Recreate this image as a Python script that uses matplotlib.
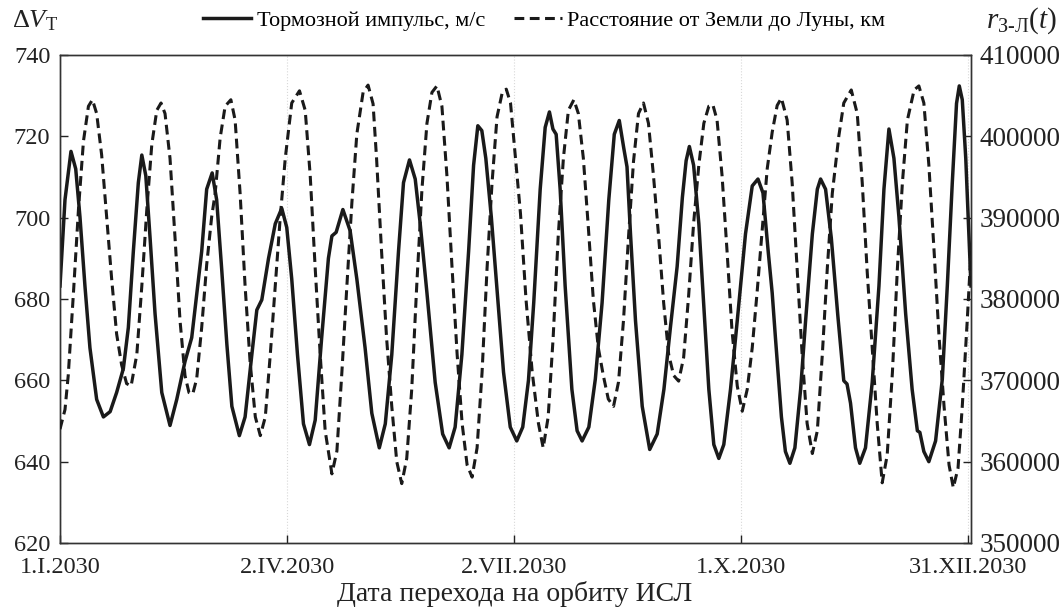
import matplotlib
matplotlib.use('Agg')
import matplotlib.pyplot as plt

plt.rcParams['font.family'] = ['Liberation Serif', 'DejaVu Serif']
plt.rcParams['mathtext.fontset'] = 'custom'
plt.rcParams['mathtext.rm'] = 'Liberation Serif'
plt.rcParams['mathtext.it'] = 'Liberation Serif:italic'

# Days counted from 1.I.2030
tick_days = [0, 91, 182, 273, 364]
tick_labels = ['1.I.2030', '2.IV.2030', '2.VII.2030', '1.X.2030', '31.XII.2030']

# Braking impulse, m/s
dv_days = [0.0, 2.0, 4.4, 6.3, 8.0, 10.0, 12.0, 14.7, 17.4, 20.1,
           22.7, 25.4, 27.4, 29.4, 31.4, 32.8, 34.4, 36.1, 38.1, 40.8,
           44.1, 46.8, 50.1, 52.8, 56.8, 58.8, 61.0, 62.8, 64.8, 66.9,
           68.9, 71.9, 74.2, 76.9, 78.9, 80.9, 83.6, 86.3, 88.9, 90.9,
           92.9, 95.2, 97.6, 100.0, 102.3, 104.9, 107.6, 109.0, 110.7, 113.4,
           116.3, 119.0, 122.3, 125.0, 128.0, 130.4, 133.0, 135.7, 137.7, 140.1,
           142.4, 144.4, 147.1, 150.4, 153.4, 156.0, 158.4, 161.1, 163.8, 165.8,
           167.5, 169.1, 170.7, 172.9, 175.1, 177.8, 180.5, 183.1, 185.5, 187.8,
           189.9, 192.5, 194.5, 196.2, 197.6, 198.9, 200.5, 202.5, 205.2, 207.3,
           209.3, 212.0, 214.6, 217.3, 220.0, 222.2, 224.2, 226.0, 227.3, 228.7,
           230.7, 233.4, 236.4, 239.4, 242.1, 244.7, 247.4, 249.5, 251.0, 252.3,
           254.0, 256.1, 258.1, 260.1, 262.1, 264.1, 266.1, 268.8, 271.5, 274.8,
           277.5, 279.8, 281.8, 283.9, 285.5, 286.8, 289.2, 290.8, 292.6, 294.6,
           296.9, 298.9, 301.6, 303.6, 304.9, 306.9, 309.2, 311.8, 314.2, 315.5,
           316.9, 318.9, 320.6, 322.9, 325.6, 328.3, 330.3, 332.3, 334.3, 336.3,
           339.0, 341.6, 343.7, 344.7, 346.3, 348.3, 351.0, 353.7, 355.7, 357.7,
           359.4, 360.5, 361.7, 363.1, 364.4, 365.2]
dv = [683.2, 704.4, 716.3, 712.0, 700.2, 683.2, 668.0, 655.3, 651.0, 652.3,
      657.0, 662.9, 673.0, 691.7, 708.6, 715.4, 710.3, 695.1, 676.4, 657.0,
      648.9, 655.3, 664.6, 670.5, 691.7, 707.0, 711.0, 704.4, 687.5, 668.8,
      653.6, 646.4, 651.0, 666.3, 677.3, 679.8, 690.0, 698.5, 702.3, 697.6,
      684.9, 666.3, 649.3, 644.2, 650.2, 670.5, 690.0, 695.5, 696.4, 702.0,
      696.8, 684.9, 668.0, 651.9, 643.4, 649.3, 666.3, 691.7, 708.6, 714.2,
      709.5, 698.5, 681.5, 659.5, 646.8, 643.4, 648.5, 666.3, 691.7, 712.9,
      722.6, 721.4, 714.6, 700.2, 683.2, 662.0, 648.5, 645.1, 648.5, 660.0,
      679.0, 707.0, 722.2, 726.0, 721.8, 720.5, 707.0, 683.2, 657.8, 647.6,
      645.1, 648.5, 660.3, 679.0, 704.4, 720.5, 723.9, 717.1, 712.5, 696.0,
      674.7, 653.6, 643.0, 646.8, 657.8, 673.0, 688.0, 705.0, 714.0, 717.5,
      712.9, 698.5, 678.1, 657.8, 644.2, 640.8, 644.2, 657.8, 674.7, 696.0,
      707.8, 709.5, 706.1, 691.7, 681.5, 670.5, 651.0, 642.5, 639.6, 643.4,
      657.8, 674.7, 696.0, 707.0, 709.5, 707.0, 695.0, 676.0, 659.9, 659.1,
      654.4, 643.4, 639.6, 643.4, 659.5, 683.2, 707.0, 721.8, 714.6, 700.2,
      676.4, 657.8, 647.6, 647.2, 642.5, 640.0, 645.1, 660.3, 683.2, 708.6,
      728.1, 732.4, 729.0, 714.6, 695.1, 683.2]

# Earth-Moon distance, km
dist_days = [0.0, 2.0, 3.3, 5.4, 7.4, 9.4, 11.4, 13.0, 14.7, 16.7,
             18.7, 20.7, 22.7, 24.7, 26.7, 28.5, 30.8, 32.8, 34.8, 36.8,
             38.8, 40.5, 42.1, 44.1, 46.1, 48.1, 50.1, 51.7, 53.2, 54.8,
             56.8, 58.8, 60.8, 62.2, 64.2, 66.2, 68.5, 70.2, 72.2, 74.2,
             76.2, 78.3, 80.3, 82.3, 84.3, 86.3, 88.3, 90.3, 92.9, 96.0,
             98.3, 100.3, 102.3, 104.3, 106.3, 109.0, 111.0, 113.0, 115.0, 117.0,
             119.0, 121.5, 123.5, 125.5, 126.9, 128.9, 130.9, 133.0, 135.0, 137.0,
             139.0, 141.0, 143.0, 145.1, 147.1, 149.1, 151.1, 153.1, 155.1, 157.1,
             159.2, 161.2, 163.2, 165.2, 167.2, 169.2, 171.2, 173.2, 175.2, 177.3,
             178.9, 180.6, 182.6, 184.6, 186.8, 189.3, 191.8, 193.7, 195.7, 197.7,
             199.7, 201.8, 203.8, 206.0, 207.8, 209.8, 211.8, 213.8, 215.8, 217.8,
             219.8, 221.9, 223.9, 225.9, 227.9, 229.9, 231.9, 233.9, 235.9, 237.9,
             240.0, 242.0, 244.0, 246.0, 248.0, 250.0, 252.0, 254.0, 256.1, 258.1,
             260.1, 261.7, 263.4, 265.4, 267.4, 269.4, 271.5, 273.5, 275.5, 277.5,
             279.5, 281.5, 283.5, 285.5, 287.5, 289.2, 291.5, 293.5, 295.5, 297.5,
             299.5, 301.6, 303.6, 305.6, 307.6, 309.6, 312.2, 314.2, 317.2, 319.6,
             321.6, 323.6, 325.6, 327.6, 329.6, 331.6, 333.7, 335.7, 337.7, 339.7,
             342.4, 344.3, 346.3, 348.3, 350.4, 352.4, 354.4, 356.4, 358.1, 360.0,
             361.7, 363.7, 365.2]
dist_km = [364000, 366400, 370600, 380800, 391000, 399400, 403700, 404500, 402800, 397700,
           390100, 382500, 375700, 371900, 369600, 369300, 373200, 381600, 391000, 399000,
           403200, 404100, 402800, 397300, 387600, 377400, 370600, 368500, 368300, 370200,
           376500, 384200, 390100, 393000, 399800, 403700, 404500, 402000, 393000, 381600,
           372300, 365500, 363200, 365500, 373200, 381600, 390100, 397300, 404100, 405600,
           403200, 395200, 383800, 373200, 363800, 358500, 361300, 371000, 381600, 391800,
           400300, 405400, 406300, 404000, 397300, 385900, 375300, 366800, 360000, 357300,
           360400, 368900, 381600, 393500, 401600, 405400, 406200, 403700, 395200, 384200,
           373200, 364700, 359600, 358100, 361700, 371000, 383800, 394300, 402400, 405400,
           405800, 404100, 397300, 390500, 380000, 371000, 364700, 361700, 365500, 375300,
           387600, 397300, 403200, 404500, 402800, 397300, 388800, 379900, 374000, 370600,
           367700, 366800, 369800, 377400, 387600, 396900, 402800, 404100, 401600, 395200,
           387600, 379500, 373200, 370600, 369900, 372800, 380400, 389300, 396500, 401600,
           403700, 403900, 402000, 395200, 385900, 376100, 369300, 366200, 368900, 374000,
           381000, 388500, 396000, 400500, 403800, 404700, 402000, 394300, 383800, 373200,
           364700, 361000, 363800, 373200, 383800, 393000, 400000, 404100, 405700, 402800,
           394300, 383300, 374000, 364700, 357400, 360800, 371000, 383800, 394300, 402000,
           405700, 406200, 404100, 396500, 385900, 375300, 366800, 359600, 356800, 359200,
           366800, 377400, 385900]

fig = plt.figure(figsize=(10.63, 6.07), dpi=100)
ax = fig.add_axes([60 / 1063, 1 - 543 / 607, 911 / 1063, 488 / 607])
ax2 = ax.twinx()

line1, = ax.plot(dv_days, dv, color='#1a1a1a', lw=2.5, solid_joinstyle='round',
                 label='Тормозной импульс, м/с', zorder=3)
line2, = ax2.plot(dist_days, dist_km, color='#1a1a1a', lw=2.2, linestyle=(0, (3.2, 1.8)),
                  label='Расстояние от Земли до Луны, км', zorder=3)

ax.set_xlim(0, 365.2)
ax.set_ylim(620, 740)
ax2.set_ylim(350000, 410000)

ax.set_xticks(tick_days)
ax.set_xticklabels(tick_labels)
left_ticks = list(range(620, 741, 20))
ax.set_yticks(left_ticks)
ax.set_yticklabels([str(v) for v in left_ticks])
right_ticks = list(range(350000, 410001, 10000))
ax2.set_yticks(right_ticks)
ax2.set_yticklabels([str(v) for v in right_ticks])

ax.tick_params(axis='x', direction='in', length=6, width=1, labelsize=17.5, pad=10, colors='#222222')
ax.tick_params(axis='y', direction='in', length=6, width=1, labelsize=17.5, pad=7, colors='#222222')
ax2.tick_params(axis='y', direction='in', length=6, width=1, labelsize=19.5, pad=6, colors='#222222')

for a in (ax, ax2):
    for s in a.spines.values():
        s.set_color('#333333')
        s.set_linewidth(1.0)

ax.grid(axis='x', color='#d8d8d8', linestyle=':', lw=0.8)

fig.text(515 / 1063, 1 - 594 / 607, 'Дата перехода на орбиту ИСЛ', fontsize=20,
         ha='center', va='center', color='#222222')
fig.text(12 / 1063, 1 - 21 / 607, r'$\Delta V_{\mathrm{T}}$', fontsize=19,
         ha='left', va='center', color='#222222')
fig.text(1057 / 1063, 1 - 21 / 607, r'$r_{\text{З-Л}}(t)$', fontsize=21,
         ha='right', va='center', color='#222222')

fig.legend([line1, line2], [line1.get_label(), line2.get_label()], loc='center',
           bbox_to_anchor=(0.512, 1 - 21 / 607), ncol=2, frameon=False, fontsize=16,
           handlelength=2.15, handletextpad=0.25, columnspacing=1.3)

fig.savefig('out.png', dpi=100)
